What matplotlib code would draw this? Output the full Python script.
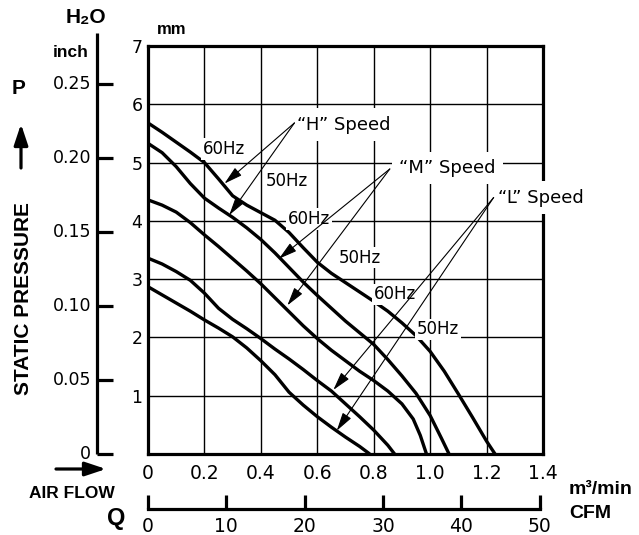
import matplotlib
matplotlib.use("Agg")
import matplotlib.pyplot as plt
from matplotlib import font_manager
from matplotlib.transforms import blended_transform_factory

# ---------------- data ----------------
flow_ticks = [0, 0.2, 0.4, 0.6, 0.8, 1.0, 1.2, 1.4]
flow_tick_labels = ["0", "0.2", "0.4", "0.6", "0.8", "1.0", "1.2", "1.4"]
mm_ticks = [1, 2, 3, 4, 5, 6, 7]
inch_ticks = [0, 0.05, 0.10, 0.15, 0.20, 0.25]
inch_tick_labels = ["0", "0.05", "0.10", "0.15", "0.20", "0.25"]
cfm_ticks = [0, 10, 20, 30, 40, 50]
cfm_per_m3min = 36.0   # scale ratio as drawn on the chart
mm_per_inch = 25.4

# curve 1 : "H" 60Hz
flow_1 = [0, 0.05, 0.1, 0.15, 0.2, 0.25, 0.3, 0.35, 0.4, 0.45, 0.5, 0.55, 0.6,
          0.65, 0.7, 0.75, 0.8, 0.85, 0.9, 0.95, 1.0, 1.05, 1.1, 1.15, 1.2, 1.23]
pres_1 = [5.68, 5.52, 5.35, 5.18, 5.0, 4.72, 4.43, 4.27, 4.14, 4.01, 3.8, 3.54, 3.29,
          3.10, 2.94, 2.78, 2.62, 2.45, 2.25, 2.03, 1.76, 1.42, 1.03, 0.63, 0.22, 0.0]
# curve 2 : "H" 50Hz
flow_2 = [0, 0.05, 0.1, 0.15, 0.2, 0.25, 0.3, 0.35, 0.4, 0.45, 0.5, 0.55, 0.6,
          0.65, 0.7, 0.75, 0.8, 0.85, 0.9, 0.95, 1.0, 1.04, 1.067]
pres_2 = [5.33, 5.17, 4.93, 4.64, 4.39, 4.22, 4.06, 3.88, 3.68, 3.45, 3.20, 2.95, 2.72,
          2.50, 2.28, 2.08, 1.88, 1.62, 1.34, 1.04, 0.66, 0.27, 0.0]
# curve 3 : "M" speed
flow_3 = [0, 0.05, 0.1, 0.15, 0.2, 0.25, 0.3, 0.35, 0.4, 0.45, 0.5, 0.55, 0.6,
          0.65, 0.7, 0.75, 0.8, 0.85, 0.9, 0.94, 0.965, 0.987]
pres_3 = [4.36, 4.27, 4.15, 3.97, 3.76, 3.56, 3.35, 3.14, 2.92, 2.68, 2.44, 2.2, 1.98,
          1.78, 1.6, 1.42, 1.26, 1.08, 0.86, 0.6, 0.32, 0.0]
# curve 4 : "L" 60Hz
flow_4 = [0, 0.05, 0.1, 0.15, 0.2, 0.25, 0.3, 0.35, 0.4, 0.45, 0.5, 0.55, 0.6,
          0.65, 0.7, 0.75, 0.8, 0.85, 0.874]
pres_4 = [3.36, 3.26, 3.13, 2.98, 2.76, 2.5, 2.31, 2.15, 1.98, 1.8, 1.63, 1.45, 1.26,
          1.08, 0.86, 0.64, 0.41, 0.15, 0.0]
# curve 5 : "L" 50Hz
flow_5 = [0, 0.05, 0.1, 0.15, 0.2, 0.25, 0.3, 0.35, 0.4, 0.45, 0.5, 0.55, 0.6,
          0.65, 0.7, 0.75, 0.786]
pres_5 = [2.87, 2.73, 2.59, 2.45, 2.3, 2.16, 2.01, 1.82, 1.6, 1.36, 1.06, 0.84, 0.64,
          0.46, 0.29, 0.13, 0.0]

curves = [(flow_1, pres_1), (flow_2, pres_2), (flow_3, pres_3),
          (flow_4, pres_4), (flow_5, pres_5)]

# ---------------- fonts ----------------
plt.rcParams["font.family"] = ["DejaVu Sans"]


def has_font(name):
    try:
        font_manager.findfont(font_manager.FontProperties(family=name),
                              fallback_to_default=False)
        return True
    except Exception:
        return False


BOLD = ["Liberation Sans", "DejaVu Sans"]
if has_font("Liberation Sans Narrow"):
    TITLE_FAM, TITLE_SIZE = ["Liberation Sans Narrow"], 18.5
else:
    TITLE_FAM, TITLE_SIZE = BOLD, 15

W, H = 639, 535
fig = plt.figure(figsize=(W / 100, H / 100), dpi=100)
L, R, T, B = 148, 543, 46, 454
ax = fig.add_axes([L / W, 1 - B / H, (R - L) / W, (B - T) / H])
ax.set_xlim(0, 1.4)
ax.set_ylim(0, 7)

ax.set_xticks(flow_ticks)
ax.set_xticklabels(flow_tick_labels)
ax.set_yticks(mm_ticks)
ax.set_yticklabels([str(v) for v in mm_ticks])
ax.tick_params(axis="both", length=0)
ax.tick_params(axis="x", labelsize=13.5, pad=7)
ax.tick_params(axis="y", labelsize=12.5, pad=4)
ax.grid(True, color="black", linewidth=1.0)
ax.set_axisbelow(True)
for s in ax.spines.values():
    s.set_linewidth(2.3)
    s.set_zorder(4)

for fx, py in curves:
    ax.plot(fx, py, color="black", linewidth=2.4, solid_joinstyle="round",
            solid_capstyle="butt", zorder=3, clip_on=False)

# ---------------- inch scale on the left ----------------
ty = blended_transform_factory(ax.transAxes, ax.transData)
x_in = (97 - L) / (R - L)
x_in_tick = (113 - L) / (R - L)
x_in_lab = (91 - L) / (R - L)
ax.plot([x_in, x_in], [0, 7.22], color="black", lw=2.3, transform=ty,
        clip_on=False, solid_capstyle="butt")
for v, lab in zip(inch_ticks, inch_tick_labels):
    mm = v * mm_per_inch
    ax.plot([x_in, x_in_tick], [mm, mm], color="black", lw=2.3, transform=ty,
            clip_on=False, solid_capstyle="butt")
    ax.text(x_in_lab, mm, lab, transform=ty, ha="right", va="center",
            fontsize=12.5)

# ---------------- CFM scale at the bottom ----------------
tx = blended_transform_factory(ax.transData, ax.transAxes)
y_cfm = (B - 509) / (B - T)
y_cfm_tick = (B - 495) / (B - T)
y_cfm_lab = (B - 527) / (B - T)
ax.plot([0, cfm_ticks[-1] / cfm_per_m3min], [y_cfm, y_cfm], color="black",
        lw=2.3, transform=tx, clip_on=False, solid_capstyle="projecting")
for c in cfm_ticks:
    xv = c / cfm_per_m3min
    ax.plot([xv, xv], [y_cfm, y_cfm_tick], color="black", lw=2.3,
            transform=tx, clip_on=False, solid_capstyle="butt")
    ax.text(xv, y_cfm_lab, str(c), transform=tx, ha="center", va="center",
            fontsize=13.5)

# ---------------- curve labels ----------------
hz_box = dict(boxstyle="square,pad=0.1", fc="white", ec="none")
for (xl, yl, t) in [(0.269, 5.23, "60Hz"), (0.493, 4.69, "50Hz"),
                    (0.571, 4.03, "60Hz"), (0.751, 3.37, "50Hz"),
                    (0.874, 2.74, "60Hz"), (1.027, 2.14, "50Hz")]:
    ax.text(xl, yl, t, ha="center", va="center", fontsize=12, bbox=hz_box,
            zorder=5)

sp_box = dict(boxstyle="square,pad=0.4", fc="white", ec="none")
ax.text(0.527, 5.65, "\u201cH\u201d Speed", ha="left", va="center",
        fontsize=13, bbox=sp_box, zorder=5)
ax.text(0.891, 4.91, "\u201cM\u201d Speed", ha="left", va="center",
        fontsize=13, bbox=sp_box, zorder=5)
ax.text(1.239, 4.40, "\u201cL\u201d Speed", ha="left", va="center",
        fontsize=13, bbox=sp_box, zorder=6, clip_on=False)

arrow = dict(arrowstyle="-|>,head_length=0.8,head_width=0.22", color="black",
             lw=0.8, shrinkA=0, shrinkB=0, mutation_scale=14)
for tail, heads in [((0.519, 5.68), [(0.271, 4.64), (0.288, 4.10)]),
                    ((0.857, 4.89), [(0.464, 3.35), (0.494, 2.55)]),
                    ((1.225, 4.40), [(0.657, 1.10), (0.669, 0.40)])]:
    for hd in heads:
        ax.annotate("", xy=hd, xytext=tail, arrowprops=arrow, zorder=7,
                    annotation_clip=False)


# ---------------- outer labels (figure pixel positions) ----------------
def ftext(x, y, s, **kw):
    fig.text(x / W, 1 - y / H, s, **kw)


ftext(86, 18, "H\u2082O", ha="center", va="center", fontsize=15,
      fontweight="bold", family=BOLD)
ftext(71, 52, "inch", ha="center", va="center", fontsize=12.5,
      fontweight="bold", family=BOLD)
ftext(172, 30, "mm", ha="center", va="center", fontsize=12,
      fontweight="bold", family=BOLD)
ftext(19, 88, "P", ha="center", va="center", fontsize=15,
      fontweight="bold", family=BOLD)
ftext(24, 299, "STATIC PRESSURE", ha="center", va="center",
      fontsize=TITLE_SIZE, fontweight="bold", family=TITLE_FAM, rotation=90)
ftext(72, 493, "AIR FLOW", ha="center", va="center", fontsize=12.5,
      fontweight="bold", family=BOLD)
ftext(116, 518, "Q", ha="center", va="center", fontsize=17,
      fontweight="bold", family=BOLD)
ftext(569, 490, "m\u00b3/min", ha="left", va="center", fontsize=14,
      fontweight="bold", family=BOLD)
ftext(569, 513, "CFM", ha="left", va="center", fontsize=14,
      fontweight="bold", family=BOLD)

fig.add_artist(matplotlib.patches.FancyArrowPatch(
    (21 / W, 1 - 168 / H), (21 / W, 1 - 124 / H), transform=fig.transFigure,
    arrowstyle="-|>,head_length=0.9,head_width=0.3", mutation_scale=14,
    lw=2.3, color="black", shrinkA=0, shrinkB=0))
fig.add_artist(matplotlib.patches.FancyArrowPatch(
    (56 / W, 1 - 469 / H), (106 / W, 1 - 469 / H), transform=fig.transFigure,
    arrowstyle="-|>,head_length=0.9,head_width=0.3", mutation_scale=14,
    lw=2.3, color="black", shrinkA=0, shrinkB=0))

fig.savefig("out.png", dpi=100, facecolor="white")
